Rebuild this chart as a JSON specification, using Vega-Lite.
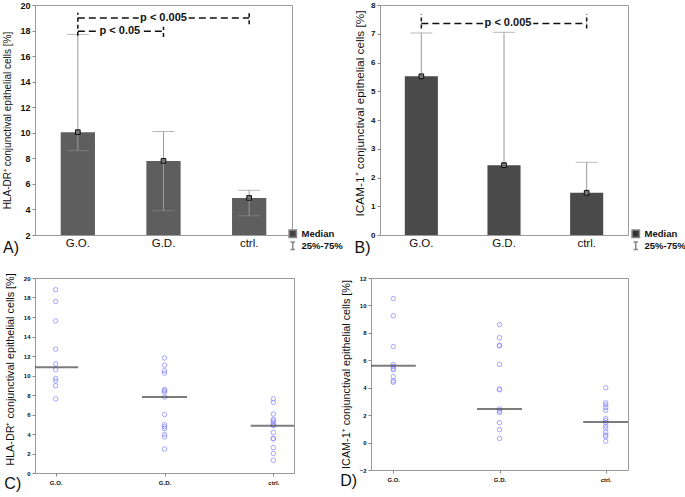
{
  "$schema": "https://vega.github.io/schema/vega-lite/v6.json",
  "background": "white",
  "padding": {"left": 2, "top": 0, "right": 0, "bottom": 0},
  "config": {
    "font": "Liberation Sans",
    "view": {"stroke": "#9a9a9a", "strokeWidth": 1},
    "axis": {"domain": false, "grid": false, "tickColor": "#888", "labelColor": "#111", "titleColor": "#111", "titleFontWeight": "normal"},
    "title": {"font": "Liberation Sans", "fontWeight": "normal", "color": "#111"},
    "legend": {"padding": 0, "offset": 0}
  },
  "resolve": {"scale": {"shape": "independent", "color": "independent"}, "legend": {"shape": "independent", "color": "independent"}},
  "datasets": {
    "A": [
      {"group": "G.O.", "median": 10.05, "q25": 8.6, "q75": 17.7},
      {"group": "G.D.", "median": 7.8, "q25": 3.9, "q75": 10.1},
      {"group": "ctrl.", "median": 4.9, "q25": 3.5, "q75": 5.5}
    ],
    "A_sig": [
      {"from": "G.O.", "to": "ctrl.", "y": 18.98, "label": "p < 0.005", "at": "G.D."},
      {"from": "G.O.", "to": "G.D.", "y": 17.95, "label": "p < 0.05", "at": "G.O."}
    ],
    "A_ends": [
      {"g": "G.O.", "lo": 17.6, "hi": 19.4},
      {"g": "ctrl.", "lo": 18.5, "hi": 19.4},
      {"g": "G.D.", "lo": 17.5, "hi": 18.3}
    ],
    "B": [
      {"group": "G.O.", "median": 5.52, "q75": 7.03},
      {"group": "G.D.", "median": 2.43, "q75": 7.05},
      {"group": "ctrl.", "median": 1.47, "q75": 2.53}
    ],
    "B_sig": [
      {"from": "G.O.", "to": "ctrl.", "y": 7.36, "label": "p < 0.005", "at": "G.D."}
    ],
    "B_ends": [
      {"g": "G.O.", "lo": 7.18, "hi": 7.69},
      {"g": "ctrl.", "lo": 7.18, "hi": 7.69}
    ],
    "legend": [{"stat": "Median"}, {"stat": "25%-75%"}],
    "C_pts": [
      {"group": "G.O.", "v": 18.8}, {"group": "G.O.", "v": 17.6}, {"group": "G.O.", "v": 15.6}, {"group": "G.O.", "v": 12.7}, {"group": "G.O.", "v": 11.2},
      {"group": "G.O.", "v": 10.6}, {"group": "G.O.", "v": 9.7}, {"group": "G.O.", "v": 9.45}, {"group": "G.O.", "v": 8.95}, {"group": "G.O.", "v": 7.6},
      {"group": "G.D.", "v": 11.8}, {"group": "G.D.", "v": 11.05}, {"group": "G.D.", "v": 10.5}, {"group": "G.D.", "v": 10.25}, {"group": "G.D.", "v": 8.55},
      {"group": "G.D.", "v": 8.45}, {"group": "G.D.", "v": 8.3}, {"group": "G.D.", "v": 7.8}, {"group": "G.D.", "v": 6.0}, {"group": "G.D.", "v": 4.95},
      {"group": "G.D.", "v": 4.75}, {"group": "G.D.", "v": 4.55}, {"group": "G.D.", "v": 3.95}, {"group": "G.D.", "v": 3.7}, {"group": "G.D.", "v": 2.45},
      {"group": "ctrl.", "v": 7.6}, {"group": "ctrl.", "v": 7.25}, {"group": "ctrl.", "v": 6.05}, {"group": "ctrl.", "v": 5.5}, {"group": "ctrl.", "v": 5.35},
      {"group": "ctrl.", "v": 5.15}, {"group": "ctrl.", "v": 4.95}, {"group": "ctrl.", "v": 4.85}, {"group": "ctrl.", "v": 4.15}, {"group": "ctrl.", "v": 3.55},
      {"group": "ctrl.", "v": 3.5}, {"group": "ctrl.", "v": 2.6}, {"group": "ctrl.", "v": 2.0}, {"group": "ctrl.", "v": 1.3}
    ],
    "C_med": [
      {"group": "G.O.", "v": 10.85}, {"group": "G.D.", "v": 7.8}, {"group": "ctrl.", "v": 4.85}
    ],
    "D_pts": [
      {"group": "G.O.", "v": 10.5}, {"group": "G.O.", "v": 9.25}, {"group": "G.O.", "v": 7.0}, {"group": "G.O.", "v": 5.7}, {"group": "G.O.", "v": 5.55},
      {"group": "G.O.", "v": 5.4}, {"group": "G.O.", "v": 5.3}, {"group": "G.O.", "v": 4.8}, {"group": "G.O.", "v": 4.5}, {"group": "G.O.", "v": 4.4},
      {"group": "G.D.", "v": 8.6}, {"group": "G.D.", "v": 7.65}, {"group": "G.D.", "v": 7.1}, {"group": "G.D.", "v": 7.05}, {"group": "G.D.", "v": 5.7},
      {"group": "G.D.", "v": 3.9}, {"group": "G.D.", "v": 3.85}, {"group": "G.D.", "v": 2.45}, {"group": "G.D.", "v": 2.3}, {"group": "G.D.", "v": 2.2},
      {"group": "G.D.", "v": 1.45}, {"group": "G.D.", "v": 0.95}, {"group": "G.D.", "v": 0.3},
      {"group": "ctrl.", "v": 4.0}, {"group": "ctrl.", "v": 2.9}, {"group": "ctrl.", "v": 2.75}, {"group": "ctrl.", "v": 2.55}, {"group": "ctrl.", "v": 2.35},
      {"group": "ctrl.", "v": 1.75}, {"group": "ctrl.", "v": 1.6}, {"group": "ctrl.", "v": 1.45}, {"group": "ctrl.", "v": 1.2}, {"group": "ctrl.", "v": 1.05},
      {"group": "ctrl.", "v": 0.75}, {"group": "ctrl.", "v": 0.55}, {"group": "ctrl.", "v": 0.45}, {"group": "ctrl.", "v": 0.1}
    ],
    "D_med": [
      {"group": "G.O.", "v": 5.6}, {"group": "G.D.", "v": 2.45}, {"group": "ctrl.", "v": 1.5}
    ]
  },
  "spacing": 15,
  "vconcat": [
    {
      "spacing": 10,
      "resolve": {"scale": {"shape": "independent", "color": "independent"}, "legend": {"shape": "independent", "color": "independent"}},
      "hconcat": [
        {
          "width": 257, "height": 230,
          "title": {"text": "A)", "orient": "bottom", "anchor": "start", "frame": "bounds", "fontSize": 16, "offset": -13},
          "encoding": {
            "x": {"field": "group", "type": "nominal",
                  "scale": {"domain": ["G.O.", "G.D.", "ctrl."], "paddingInner": 0.6, "paddingOuter": 0.3},
                  "axis": {"title": null, "labelAngle": 0, "ticks": false, "labelFontSize": 11.5, "labelPadding": 2}},
            "y": {"type": "quantitative", "scale": {"domain": [2, 20], "nice": false, "zero": false},
                  "axis": {"values": [2, 4, 6, 8, 10, 12, 14, 16, 18, 20], "title": "HLA-DR⁺ conjunctival epithelial cells [%]",
                           "titleFontSize": 10, "labelFontSize": 9, "labelFontWeight": "bold", "tickSize": 3, "labelPadding": 2, "titlePadding": 7}}
          },
          "layer": [
            {"data": {"name": "A"}, "mark": {"type": "bar", "fill": "#5e5e5e"},
             "encoding": {"y": {"field": "median", "type": "quantitative"}, "y2": {"datum": 2}}},
            {"data": {"name": "A"}, "mark": {"type": "rule", "color": "#9a9a9a", "strokeWidth": 1},
             "encoding": {"y": {"field": "q25", "type": "quantitative"}, "y2": {"field": "q75"}}},
            {"data": {"name": "A"}, "mark": {"type": "tick", "color": "#9a9a9a", "size": 22, "thickness": 1},
             "encoding": {"y": {"field": "q75", "type": "quantitative"}}},
            {"data": {"name": "A"}, "mark": {"type": "tick", "color": "#8a8a8a", "size": 22, "thickness": 1},
             "encoding": {"y": {"field": "q25", "type": "quantitative"}}},
            {"data": {"name": "A"}, "mark": {"type": "point", "shape": "square", "size": 22, "filled": true, "fill": "#777", "stroke": "#111", "strokeWidth": 1, "opacity": 1},
             "encoding": {"y": {"field": "median", "type": "quantitative"}}},
            {"data": {"name": "A_sig"}, "mark": {"type": "rule", "color": "#111", "strokeWidth": 1.5, "strokeDash": [7, 4]},
             "encoding": {"x": {"field": "from", "type": "nominal", "bandPosition": 0.5}, "x2": {"field": "to", "bandPosition": 0.5}, "y": {"field": "y", "type": "quantitative"}}},
            {"data": {"name": "A_ends"}, "mark": {"type": "rule", "color": "#111", "strokeWidth": 1.5, "strokeDash": [4, 3]},
             "encoding": {"x": {"field": "g", "type": "nominal"}, "y": {"field": "lo", "type": "quantitative"}, "y2": {"field": "hi"}}},
            {"data": {"name": "A_sig"}, "transform": [{"filter": "datum.at == 'G.D.'"}],
             "mark": {"type": "text", "fontSize": 11, "fontWeight": "bold", "stroke": "white", "strokeWidth": 4, "color": "white"},
             "encoding": {"x": {"field": "at", "type": "nominal"}, "y": {"field": "y", "type": "quantitative"}, "text": {"field": "label"}}},
            {"data": {"name": "A_sig"}, "transform": [{"filter": "datum.at == 'G.D.'"}],
             "mark": {"type": "text", "fontSize": 11, "fontWeight": "bold", "color": "#111"},
             "encoding": {"x": {"field": "at", "type": "nominal"}, "y": {"field": "y", "type": "quantitative"}, "text": {"field": "label"}}},
            {"data": {"name": "A_sig"}, "transform": [{"filter": "datum.at == 'G.O.'"}],
             "mark": {"type": "text", "fontSize": 11, "fontWeight": "bold", "stroke": "white", "strokeWidth": 4, "color": "white", "dx": 42},
             "encoding": {"x": {"field": "at", "type": "nominal"}, "y": {"field": "y", "type": "quantitative"}, "text": {"field": "label"}}},
            {"data": {"name": "A_sig"}, "transform": [{"filter": "datum.at == 'G.O.'"}],
             "mark": {"type": "text", "fontSize": 11, "fontWeight": "bold", "color": "#111", "dx": 42},
             "encoding": {"x": {"field": "at", "type": "nominal"}, "y": {"field": "y", "type": "quantitative"}, "text": {"field": "label"}}},
            {"data": {"name": "legend"}, "mark": {"type": "point", "filled": true, "opacity": 0, "stroke": "#888", "strokeWidth": 1},
             "encoding": {
               "x": {"value": 0}, "y": {"value": 0},
               "shape": {"field": "stat", "type": "nominal", "sort": null,
                         "scale": {"domain": ["Median", "25%-75%"], "range": ["square", "M-0.6,-1H0.6M0,-1V1M-0.6,1H0.6"]},
                         "legend": {"orient": "none", "legendX": 253, "legendY": 224, "title": null, "symbolOpacity": 1, "labelFontSize": 9.5, "labelFontWeight": "bold", "labelColor": "#111", "symbolSize": 55, "rowPadding": -3, "labelOffset": 4}},
               "color": {"field": "stat", "type": "nominal", "sort": null,
                         "scale": {"domain": ["Median", "25%-75%"], "range": ["#444", "#ffffff"]},
                         "legend": {"orient": "none", "legendX": 253, "legendY": 224, "title": null, "symbolOpacity": 1, "labelFontSize": 9.5, "labelFontWeight": "bold", "labelColor": "#111", "symbolSize": 55, "rowPadding": -3, "labelOffset": 4}}
             }}
          ]
        },
        {
          "width": 248, "height": 230,
          "title": {"text": "B)", "orient": "bottom", "anchor": "start", "frame": "bounds", "fontSize": 16, "offset": -13},
          "encoding": {
            "x": {"field": "group", "type": "nominal",
                  "scale": {"domain": ["G.O.", "G.D.", "ctrl."], "paddingInner": 0.6, "paddingOuter": 0.3},
                  "axis": {"title": null, "labelAngle": 0, "ticks": false, "labelFontSize": 11.5, "labelPadding": 2}},
            "y": {"type": "quantitative", "scale": {"domain": [0, 8], "nice": false, "zero": false},
                  "axis": {"values": [0, 1, 2, 3, 4, 5, 6, 7, 8], "title": "ICAM-1⁺ conjunctival epithelial cells [%]",
                           "titleFontSize": 11.8, "titleY": 108, "labelFontSize": 8, "labelFontWeight": "bold", "tickSize": 3, "labelPadding": 2, "titlePadding": 5}}
          },
          "layer": [
            {"data": {"name": "B"}, "mark": {"type": "bar", "fill": "#4a4a4a"},
             "encoding": {"y": {"field": "median", "type": "quantitative"}, "y2": {"datum": 0}}},
            {"data": {"name": "B"}, "mark": {"type": "rule", "color": "#9a9a9a", "strokeWidth": 1},
             "encoding": {"y": {"field": "median", "type": "quantitative"}, "y2": {"field": "q75"}}},
            {"data": {"name": "B"}, "mark": {"type": "tick", "color": "#9a9a9a", "size": 22, "thickness": 1},
             "encoding": {"y": {"field": "q75", "type": "quantitative"}}},
            {"data": {"name": "B"}, "mark": {"type": "point", "shape": "square", "size": 22, "filled": true, "fill": "#777", "stroke": "#111", "strokeWidth": 1, "opacity": 1},
             "encoding": {"y": {"field": "median", "type": "quantitative"}}},
            {"data": {"name": "B_sig"}, "mark": {"type": "rule", "color": "#111", "strokeWidth": 1.5, "strokeDash": [7, 4]},
             "encoding": {"x": {"field": "from", "type": "nominal", "bandPosition": 0.5}, "x2": {"field": "to", "bandPosition": 0.5}, "y": {"field": "y", "type": "quantitative"}}},
            {"data": {"name": "B_ends"}, "mark": {"type": "rule", "color": "#111", "strokeWidth": 1.5, "strokeDash": [4, 3]},
             "encoding": {"x": {"field": "g", "type": "nominal"}, "y": {"field": "lo", "type": "quantitative"}, "y2": {"field": "hi"}}},
            {"data": {"name": "B_sig"},
             "mark": {"type": "text", "fontSize": 11, "fontWeight": "bold", "stroke": "white", "strokeWidth": 4, "color": "white", "dx": 4},
             "encoding": {"x": {"field": "at", "type": "nominal"}, "y": {"field": "y", "type": "quantitative"}, "text": {"field": "label"}}},
            {"data": {"name": "B_sig"},
             "mark": {"type": "text", "fontSize": 11, "fontWeight": "bold", "color": "#111", "dx": 4},
             "encoding": {"x": {"field": "at", "type": "nominal"}, "y": {"field": "y", "type": "quantitative"}, "text": {"field": "label"}}},
            {"data": {"name": "legend"}, "mark": {"type": "point", "filled": true, "opacity": 0, "stroke": "#888", "strokeWidth": 1},
             "encoding": {
               "x": {"value": 0}, "y": {"value": 0},
               "shape": {"field": "stat", "type": "nominal", "sort": null,
                         "scale": {"domain": ["Median", "25%-75%"], "range": ["square", "M-0.6,-1H0.6M0,-1V1M-0.6,1H0.6"]},
                         "legend": {"orient": "none", "legendX": 251, "legendY": 224, "title": null, "symbolOpacity": 1, "labelFontSize": 9.5, "labelFontWeight": "bold", "labelColor": "#111", "symbolSize": 55, "rowPadding": -3, "labelOffset": 4}},
               "color": {"field": "stat", "type": "nominal", "sort": null,
                         "scale": {"domain": ["Median", "25%-75%"], "range": ["#333", "#ffffff"]},
                         "legend": {"orient": "none", "legendX": 251, "legendY": 224, "title": null, "symbolOpacity": 1, "labelFontSize": 9.5, "labelFontWeight": "bold", "labelColor": "#111", "symbolSize": 55, "rowPadding": -3, "labelOffset": 4}}
             }}
          ]
        }
      ]
    },
    {
      "spacing": 44,
      "hconcat": [
        {
          "width": 259, "height": 195,
          "title": {"text": "C)", "orient": "bottom", "anchor": "start", "frame": "bounds", "fontSize": 16, "offset": -9},
          "encoding": {
            "x": {"field": "group", "type": "nominal",
                  "scale": {"type": "point", "domain": ["G.O.", "G.D.", "ctrl."], "padding": 0.19},
                  "axis": {"title": null, "labelAngle": 0, "tickSize": 3, "labelFontSize": 6, "labelFontWeight": "bold", "labelPadding": 3}},
            "y": {"type": "quantitative", "scale": {"domain": [0, 20], "nice": false, "zero": false},
                  "axis": {"values": [0, 2, 4, 6, 8, 10, 12, 14, 16, 18, 20], "title": "HLA-DR⁺ conjunctival epithelial cells [%]",
                           "titleFontSize": 10.8, "titleY": 91, "labelFontSize": 6, "labelFontWeight": "bold", "tickSize": 3, "labelPadding": 2, "titlePadding": 8}}
          },
          "layer": [
            {"data": {"name": "C_pts"}, "mark": {"type": "point", "filled": false, "color": "#7f7fff", "size": 20, "strokeWidth": 1},
             "encoding": {"y": {"field": "v", "type": "quantitative"}}},
            {"data": {"name": "C_med"}, "mark": {"type": "tick", "color": "#444", "size": 45, "thickness": 2, "clip": true},
             "encoding": {"y": {"field": "v", "type": "quantitative"}}}
          ]
        },
        {
          "width": 257, "height": 192,
          "title": {"text": "D)", "orient": "bottom", "anchor": "start", "frame": "bounds", "fontSize": 16, "offset": -9},
          "encoding": {
            "x": {"field": "group", "type": "nominal",
                  "scale": {"type": "point", "domain": ["G.O.", "G.D.", "ctrl."], "padding": 0.21},
                  "axis": {"title": null, "labelAngle": 0, "tickSize": 3, "labelFontSize": 6, "labelFontWeight": "bold", "labelPadding": 3}},
            "y": {"type": "quantitative", "scale": {"domain": [-2, 12], "nice": false, "zero": false},
                  "axis": {"values": [-2, 0, 2, 4, 6, 8, 10, 12], "title": "ICAM-1⁺ conjunctival epithelial cells [%]",
                           "titleFontSize": 10.8, "labelFontSize": 6, "labelFontWeight": "bold", "tickSize": 3, "labelPadding": 2, "titlePadding": 8}}
          },
          "layer": [
            {"data": {"name": "D_pts"}, "mark": {"type": "point", "filled": false, "color": "#7f7fff", "size": 20, "strokeWidth": 1},
             "encoding": {"y": {"field": "v", "type": "quantitative"}}},
            {"data": {"name": "D_med"}, "mark": {"type": "tick", "color": "#444", "size": 45, "thickness": 2, "clip": true},
             "encoding": {"y": {"field": "v", "type": "quantitative"}}}
          ]
        }
      ]
    }
  ]
}
